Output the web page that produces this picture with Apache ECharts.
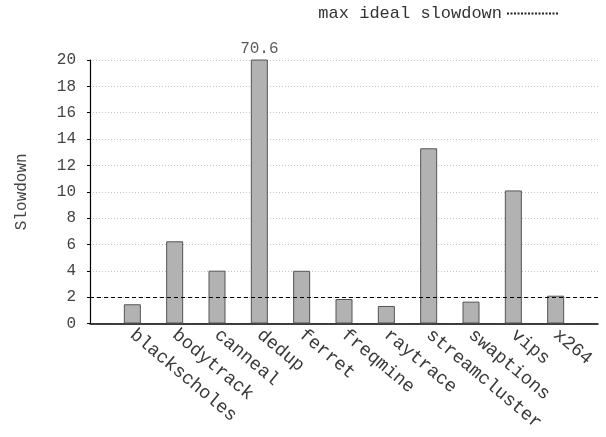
<!DOCTYPE html>
<html>
<head>
<meta charset="utf-8">
<script src="https://cdn.jsdelivr.net/npm/echarts@6/dist/echarts.min.js"></script>
<style>
  html, body { margin: 0; padding: 0; background: #fff; }
  #chart { width: 606px; height: 437px; }
</style>
</head>
<body>
<div id="chart"></div>
<script>
// Benchmarks and their measured slowdown
const benchmarks = ['blackscholes', 'bodytrack', 'canneal', 'dedup', 'ferret', 'freqmine',
                    'raytrace', 'streamcluster', 'swaptions', 'vips', 'x264'];
const slowdown = [1.46, 6.24, 4.01, 70.6, 4.0, 1.86, 1.33, 13.3, 1.66, 10.1, 2.11];
const idealSlowdown = 2;
const yTicks = { min: 0, max: 20, interval: 2 };

const FONT = '"Liberation Mono", "Courier New", monospace';

// One empty slot on each side so the bars sit one band in from the plot edges
const categories = [''].concat(benchmarks, ['']);
const barData = ['-'].concat(slowdown, ['-']);

// Value label for the bar that runs past the top of the axis
const overflow = benchmarks
  .map((name, i) => ({ name, v: slowdown[i] }))
  .filter(d => d.v > yTicks.max)
  .map(d => ({ value: [d.name, yTicks.max], label: { formatter: String(d.v) } }));

const chart = echarts.init(document.getElementById('chart'), null, { renderer: 'canvas' });
chart.setOption({
  animation: false,
  textStyle: { fontFamily: FONT },
  legend: {
    top: 5,
    right: 46,
    padding: 0,
    align: 'right',
    itemWidth: 52,
    itemHeight: 10,
    itemGap: 0,
    itemStyle: { opacity: 0 },
    textStyle: { fontFamily: FONT, fontSize: 17, color: '#333' },
    data: ['max ideal slowdown']
  },
  grid: { left: 90, right: 8, top: 60, bottom: 113.5, containLabel: false },
  xAxis: {
    type: 'category',
    data: categories,
    boundaryGap: false,
    axisLine: { lineStyle: { color: '#000', width: 1.5 } },
    axisTick: { show: false },
    axisLabel: {
      rotate: -40,
      margin: 9,
      interval: 0,
      fontFamily: FONT,
      fontSize: 18.5,
      color: '#3a3a3a'
    },
    splitLine: { show: false }
  },
  yAxis: {
    type: 'value',
    min: yTicks.min,
    max: yTicks.max,
    interval: yTicks.interval,
    name: 'Slowdown',
    nameLocation: 'middle',
    nameRotate: 90,
    nameGap: 60,
    nameTextStyle: { fontFamily: FONT, fontSize: 16, color: '#444' },
    axisLine: { show: true, lineStyle: { color: '#000', width: 1.2 } },
    axisTick: { show: true, inside: false, length: 3, lineStyle: { color: '#000' } },
    axisLabel: { fontFamily: FONT, fontSize: 16, color: '#444', margin: 14 },
    splitLine: { show: true, lineStyle: { color: '#c4c4c4', type: [1, 2], width: 1 } }
  },
  series: [
    {
      name: 'slowdown',
      type: 'bar',
      data: barData,
      barWidth: 17,
      clip: true,
      itemStyle: { color: '#b2b2b2', borderColor: '#555', borderWidth: 1 },
      emphasis: { disabled: true },
      z: 2
    },
    {
      name: 'max ideal slowdown',
      type: 'line',
      data: [],
      symbol: 'none',
      itemStyle: { color: '#222' },
      lineStyle: { color: '#222', width: 1, type: [2, 1.5] },
      markLine: {
        silent: true,
        symbol: 'none',
        label: { show: false },
        lineStyle: { color: '#000', width: 1, type: [4, 3] },
        data: [{ yAxis: idealSlowdown }]
      },
      z: 3
    },
    {
      name: 'overflow',
      type: 'scatter',
      data: overflow,
      symbolSize: 0,
      silent: true,
      label: {
        show: true,
        position: 'top',
        distance: 3,
        fontFamily: FONT,
        fontSize: 16,
        color: '#333'
      }
    }
  ]
});
</script>
</body>
</html>
